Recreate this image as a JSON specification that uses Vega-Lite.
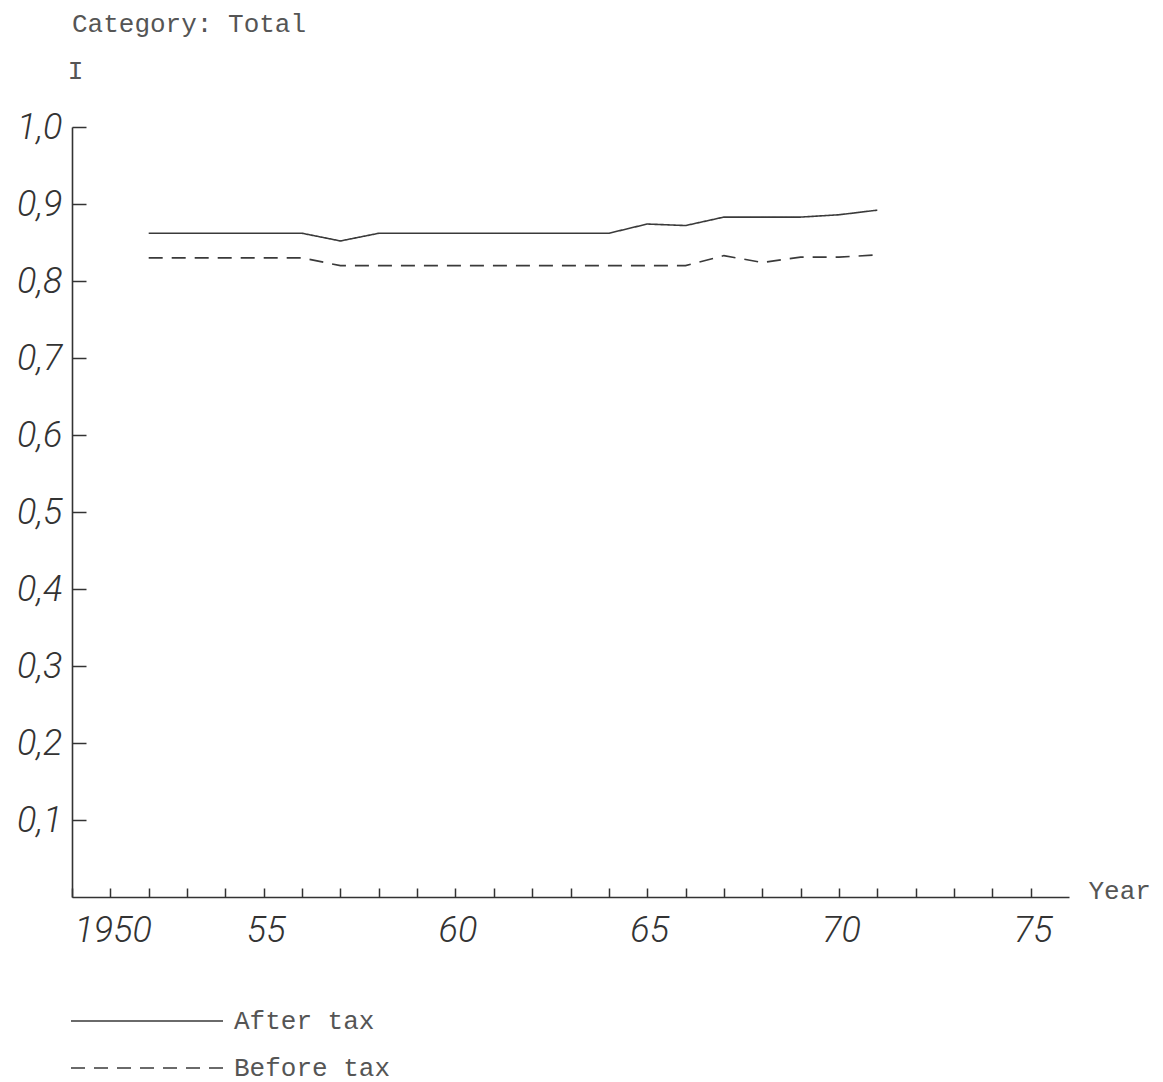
{
  "$schema": "https://vega.github.io/schema/vega-lite/v6.json",
  "width": 997,
  "height": 770,
  "autosize": {"type": "none"},
  "padding": {"left": 72, "top": 127, "right": 94, "bottom": 185},
  "background": "#ffffff",
  "title": {
    "text": "Category: Total",
    "anchor": "start",
    "frame": "group",
    "orient": "top",
    "offset": 20,
    "font": "Liberation Mono",
    "fontSize": 26,
    "fontWeight": "normal",
    "color": "#555555"
  },
  "config": {
    "view": {"stroke": null},
    "axis": {"grid": false}
  },
  "data": {
    "values": [
      {"year": 1952, "series": "After tax", "value": 0.862},
      {"year": 1953, "series": "After tax", "value": 0.862},
      {"year": 1954, "series": "After tax", "value": 0.862},
      {"year": 1955, "series": "After tax", "value": 0.862},
      {"year": 1956, "series": "After tax", "value": 0.862},
      {"year": 1957, "series": "After tax", "value": 0.852},
      {"year": 1958, "series": "After tax", "value": 0.862},
      {"year": 1959, "series": "After tax", "value": 0.862},
      {"year": 1960, "series": "After tax", "value": 0.862},
      {"year": 1961, "series": "After tax", "value": 0.862},
      {"year": 1962, "series": "After tax", "value": 0.862},
      {"year": 1963, "series": "After tax", "value": 0.862},
      {"year": 1964, "series": "After tax", "value": 0.862},
      {"year": 1965, "series": "After tax", "value": 0.874},
      {"year": 1966, "series": "After tax", "value": 0.872},
      {"year": 1967, "series": "After tax", "value": 0.883},
      {"year": 1968, "series": "After tax", "value": 0.883},
      {"year": 1969, "series": "After tax", "value": 0.883},
      {"year": 1970, "series": "After tax", "value": 0.886},
      {"year": 1971, "series": "After tax", "value": 0.892},
      {"year": 1952, "series": "Before tax", "value": 0.83},
      {"year": 1953, "series": "Before tax", "value": 0.83},
      {"year": 1954, "series": "Before tax", "value": 0.83},
      {"year": 1955, "series": "Before tax", "value": 0.83},
      {"year": 1956, "series": "Before tax", "value": 0.83},
      {"year": 1957, "series": "Before tax", "value": 0.82},
      {"year": 1958, "series": "Before tax", "value": 0.82},
      {"year": 1959, "series": "Before tax", "value": 0.82},
      {"year": 1960, "series": "Before tax", "value": 0.82},
      {"year": 1961, "series": "Before tax", "value": 0.82},
      {"year": 1962, "series": "Before tax", "value": 0.82},
      {"year": 1963, "series": "Before tax", "value": 0.82},
      {"year": 1964, "series": "Before tax", "value": 0.82},
      {"year": 1965, "series": "Before tax", "value": 0.82},
      {"year": 1966, "series": "Before tax", "value": 0.82},
      {"year": 1967, "series": "Before tax", "value": 0.833},
      {"year": 1968, "series": "Before tax", "value": 0.824},
      {"year": 1969, "series": "Before tax", "value": 0.831},
      {"year": 1970, "series": "Before tax", "value": 0.831},
      {"year": 1971, "series": "Before tax", "value": 0.834}
    ]
  },
  "mark": {"type": "line", "stroke": "#3a3a3a", "strokeWidth": 1.6},
  "encoding": {
    "x": {
      "field": "year",
      "type": "quantitative",
      "scale": {"domain": [1950, 1976], "nice": false, "zero": false},
      "axis": {
        "title": "Year",
        "titleFont": "Liberation Mono",
        "titleFontSize": 26,
        "titleFontWeight": "normal",
        "titleColor": "#555555",
        "titleX": 1016,
        "titleY": -7,
        "titleAlign": "left",
        "titleBaseline": "middle",
        "titleAngle": 0,
        "values": [1950, 1951, 1952, 1953, 1954, 1955, 1956, 1957, 1958, 1959, 1960, 1961, 1962, 1963, 1964, 1965, 1966, 1967, 1968, 1969, 1970, 1971, 1972, 1973, 1974, 1975],
        "labelExpr": "datum.value == 1950 ? '1950' : (datum.value % 5 == 0 ? substring(toString(datum.value), 2) : '')",
        "labelAlign": {"condition": {"test": "datum.value == 1950", "value": "left"}, "value": "center"},
        "labelOverlap": false,
        "labelFlush": false,
        "labelFont": "Roboto",
        "labelFontStyle": "italic",
        "labelFontWeight": 300,
        "labelFontSize": 36,
        "labelColor": "#333333",
        "labelPadding": 25,
        "labelBaseline": "top",
        "labelOffset": 2,
        "tickSize": -9,
        "tickColor": "#333333",
        "tickWidth": 1.5,
        "domainColor": "#333333",
        "domainWidth": 1.6
      }
    },
    "y": {
      "field": "value",
      "type": "quantitative",
      "scale": {"domain": [0, 1], "nice": false, "zero": true},
      "axis": {
        "title": "I",
        "titleFont": "Liberation Mono",
        "titleFontSize": 26,
        "titleFontWeight": "normal",
        "titleColor": "#555555",
        "titleAngle": 0,
        "titleX": 3,
        "titleY": -57,
        "titleAlign": "center",
        "titleBaseline": "middle",
        "values": [0.1, 0.2, 0.3, 0.4, 0.5, 0.6, 0.7, 0.8, 0.9, 1.0],
        "labelExpr": "replace(format(datum.value, '.1f'), '.', ',')",
        "labelOverlap": false,
        "labelFlush": false,
        "labelFont": "Roboto",
        "labelFontStyle": "italic",
        "labelFontWeight": 300,
        "labelFontSize": 36,
        "labelColor": "#333333",
        "labelPadding": 24,
        "tickSize": -14,
        "tickColor": "#333333",
        "tickWidth": 1.5,
        "domainColor": "#333333",
        "domainWidth": 1.6
      }
    },
    "strokeDash": {
      "field": "series",
      "type": "nominal",
      "scale": {"domain": ["After tax", "Before tax"], "range": [[1, 0], [14, 9]]},
      "legend": {
        "title": null,
        "orient": "none",
        "legendX": -2,
        "legendY": 877,
        "direction": "vertical",
        "symbolType": "stroke",
        "symbolSize": 23104,
        "clipHeight": 34,
        "symbolStrokeColor": "#3a3a3a",
        "symbolStrokeWidth": 1.5,
        "labelFont": "Liberation Mono",
        "labelFontSize": 26,
        "labelColor": "#555555",
        "labelOffset": 10,
        "labelLimit": 400,
        "rowPadding": 13
      }
    }
  }
}
